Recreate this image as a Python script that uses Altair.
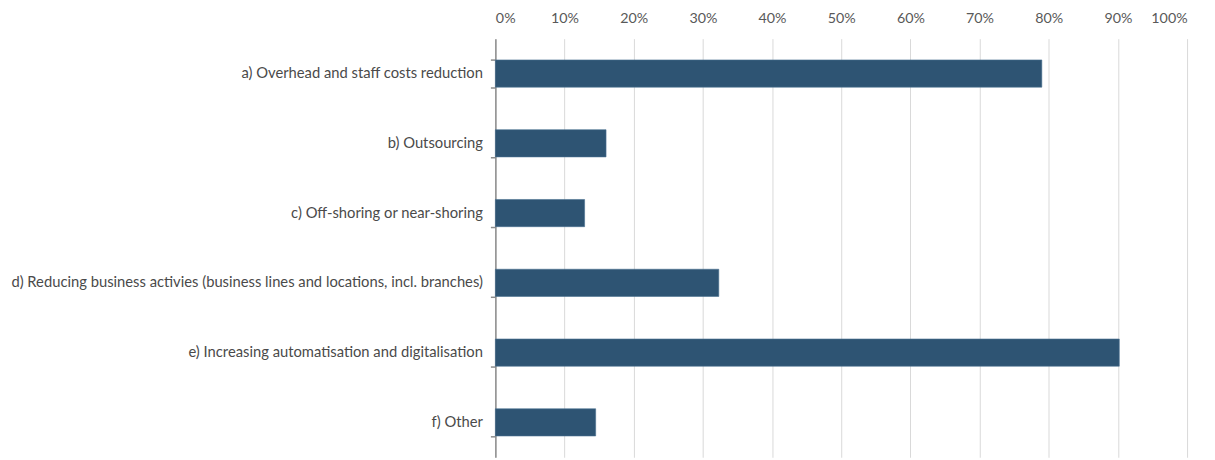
import altair as alt
import pandas as pd

categories = [
    "a) Overhead and staff costs reduction",
    "b) Outsourcing",
    "c) Off-shoring or near-shoring",
    "d) Reducing business activies (business lines and locations, incl. branches)",
    "e) Increasing automatisation and digitalisation",
    "f) Other",
]
values = [0.79, 0.16, 0.129, 0.323, 0.902, 0.145]

df = pd.DataFrame({"category": categories, "value": values})

FONT = "Lato"

chart = (
    alt.Chart(df)
    .mark_bar(color="#2E5473", stroke="#4A7090", strokeWidth=0.6)
    .encode(
        x=alt.X(
            "value:Q",
            scale=alt.Scale(domain=[0, 1], nice=False),
            axis=alt.Axis(
                orient="top",
                format=".0%",
                values=[i / 10 for i in range(11)],
                domain=False,
                ticks=False,
                grid=True,
                gridColor="#D9D9D9",
                gridWidth=1,
                labelColor="#595959",
                labelFont=FONT,
                labelFontSize=14.3,
                labelPadding=13,
                title=None,
            ),
        ),
        y=alt.Y(
            "category:N",
            sort=categories,
            scale=alt.Scale(paddingInner=0.61, paddingOuter=0.305),
            axis=alt.Axis(
                domain=True,
                domainColor="#8C8C8C",
                domainWidth=1.5,
                ticks=True,
                tickBand="extent",
                tickColor="#8C8C8C",
                tickSize=5,
                tickWidth=1.5,
                labelColor="#4A4A4A",
                labelFont=FONT,
                labelFontSize=14.8,
                labelPadding=8,
                labelLimit=600,
                title=None,
                grid=False,
            ),
        ),
    )
    .properties(
        width=694,
        height=420,
        autosize=alt.AutoSizeParams(type="none"),
        padding={"left": 489, "top": 30, "right": 20, "bottom": 5},
    )
    .configure_view(stroke=None)
)

chart.save("out.html", embed_options={"renderer": "svg", "actions": False})
